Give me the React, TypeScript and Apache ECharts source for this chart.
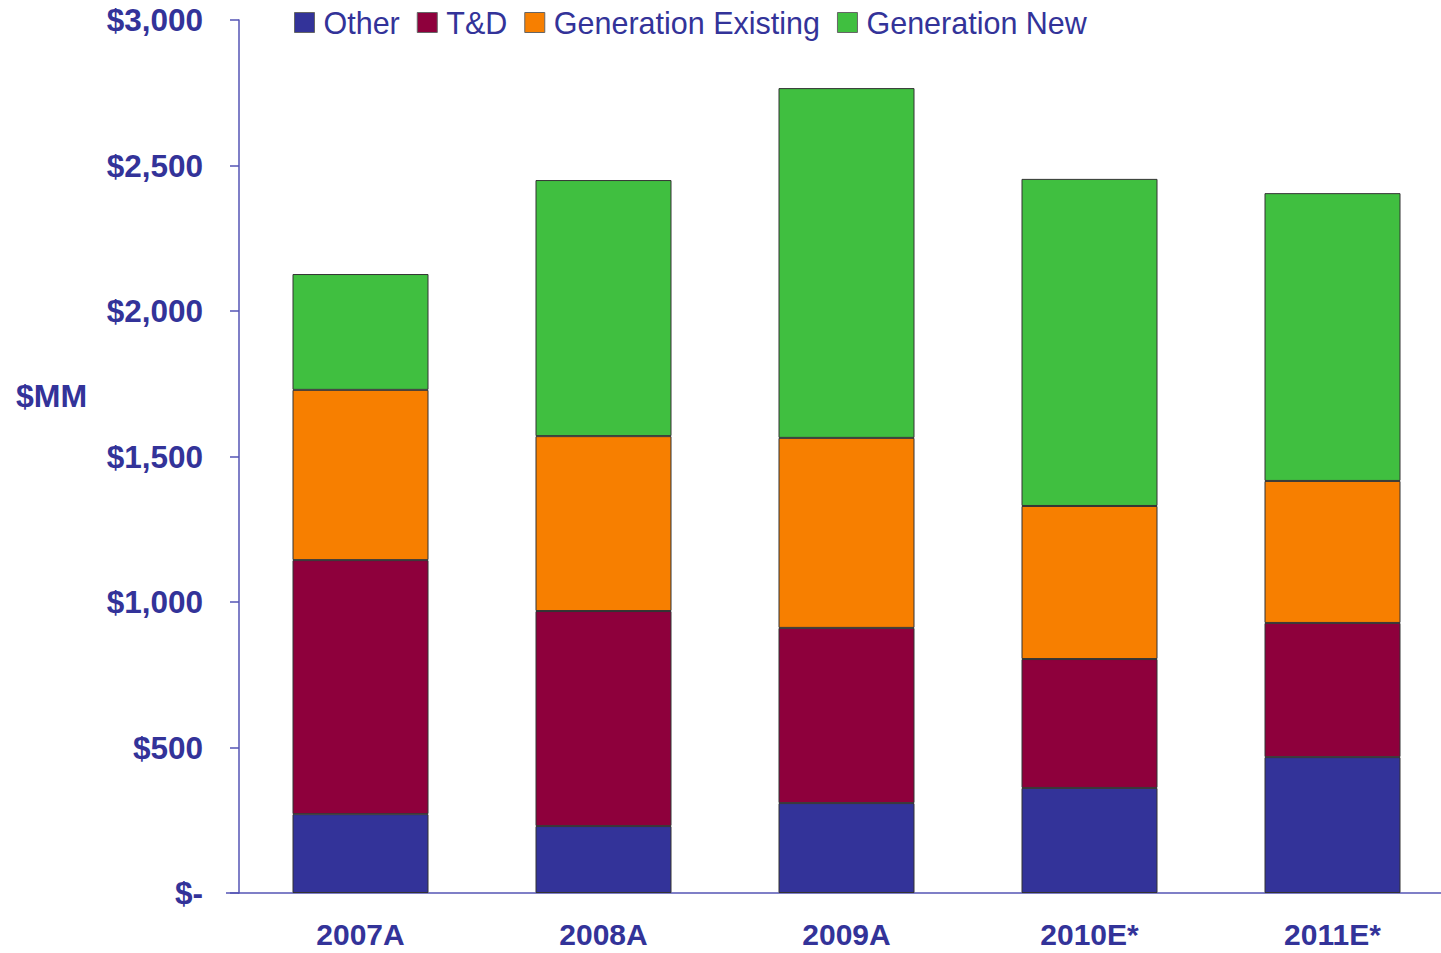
import React, { useEffect, useRef } from "react";
import * as echarts from "echarts";

const categories = ["2007A", "2008A", "2009A", "2010E*", "2011E*"];
const other = [271, 230, 309, 361, 467];
const td = [873, 739, 602, 443, 461];
const genExisting = [585, 601, 653, 526, 488];
const genNew = [398, 880, 1202, 1124, 989];

const TEXT = "#333399";
const AXIS = "#5555b5";
const FONT = "'Liberation Sans', Arial, sans-serif";

export default function App() {
  const ref = useRef<HTMLDivElement>(null);
  useEffect(() => {
    const chart = echarts.init(ref.current!, null, { renderer: "svg" });
    const mk = (name: string, data: number[], color: string) => ({
      name,
      type: "bar",
      stack: "total",
      data,
      barWidth: 136,
      itemStyle: { color, borderColor: "#333333", borderWidth: 1 },
    });
    chart.setOption({
      animation: false,
      backgroundColor: "#ffffff",
      textStyle: { fontFamily: FONT },
      grid: { left: 239, right: 0, top: 20, bottom: 60 },
      legend: {
        left: 289,
        top: 2,
        itemWidth: 20,
        itemHeight: 20,
        itemGap: 17,
        icon: "rect",
        itemStyle: { borderColor: "#666666", borderWidth: 1 },
        textStyle: { color: TEXT, fontSize: 30.5, fontFamily: FONT, padding: [0, 0, 0, 4] },
        data: ["Other", "T&D", "Generation Existing", "Generation New"],
      },
      graphic: [
        {
          type: "text",
          left: 16,
          top: 380,
          style: { text: "$MM", fill: TEXT, font: `bold 32px ${FONT}` },
        },
        {
          type: "line",
          shape: { x1: 226, y1: 893, x2: 239, y2: 893 },
          style: { stroke: AXIS, lineWidth: 1.5 },
        },
      ],
      xAxis: {
        type: "category",
        data: categories,
        axisLine: { lineStyle: { color: AXIS, width: 1.5 } },
        axisTick: { length: 10, lineStyle: { color: AXIS, width: 1.5 } },
        axisLabel: {
          color: TEXT,
          fontSize: 30,
          lineHeight: 28,
          fontWeight: "bold",
          margin: 27,
          fontFamily: FONT,
        },
      },
      yAxis: {
        type: "value",
        min: 0,
        max: 3000,
        interval: 500,
        splitLine: { show: false },
        axisLine: { show: true, lineStyle: { color: AXIS, width: 1.5 } },
        axisTick: { show: true, length: 9, lineStyle: { color: AXIS, width: 1.5 } },
        axisLabel: {
          color: TEXT,
          fontSize: 31.5,
          fontWeight: "bold",
          margin: 36,
          fontFamily: FONT,
          formatter: (v: number) => (v === 0 ? "$-" : "$" + v.toLocaleString("en-US")),
        },
      },
      series: [
        mk("Other", other, "#333399"),
        mk("T&D", td, "#8e003c"),
        mk("Generation Existing", genExisting, "#f77f00"),
        mk("Generation New", genNew, "#40bf40"),
      ],
    });
    return () => chart.dispose();
  }, []);
  return (
    <div style={{ position: "fixed", left: 0, top: 0, width: 1441, height: 953, overflow: "hidden", background: "#fff" }}>
      <div ref={ref} style={{ width: 1454, height: 953 }} />
    </div>
  );
}
